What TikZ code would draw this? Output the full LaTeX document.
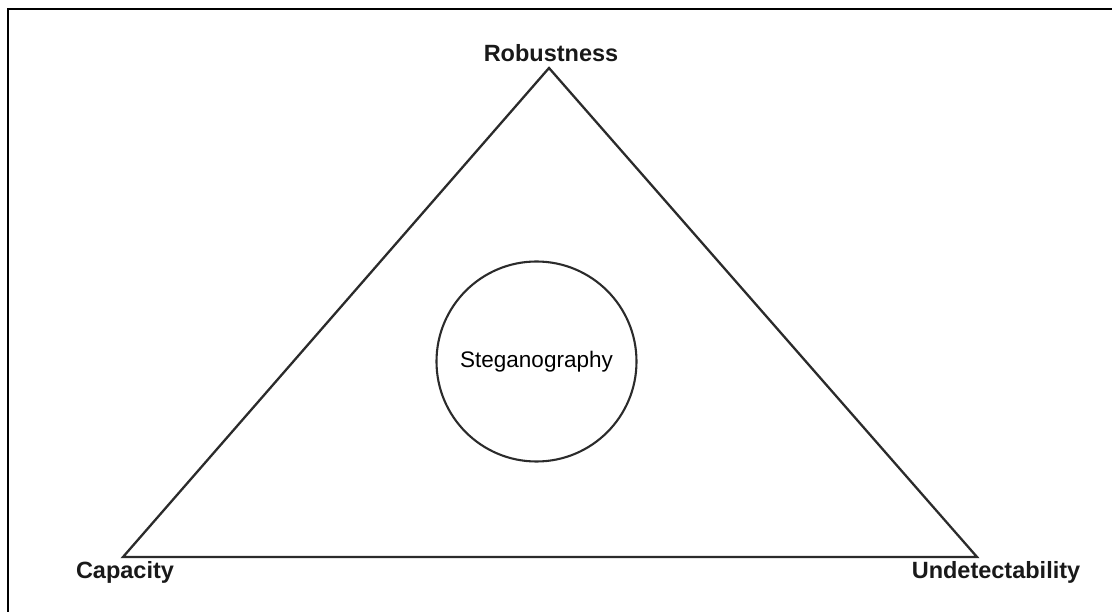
\documentclass[tikz,border=0pt]{standalone}
\usepackage{fontspec}
\setmainfont{Liberation Sans}
\usetikzlibrary{positioning}
\definecolor{edgegray}{HTML}{2B2B2B}
\tikzset{
  frame/.style={draw=black,line width=2pt},
  side/.style={draw=edgegray,line width=2.3pt,line join=miter},
  vertexlabel/.style={anchor=base,inner sep=0pt,font=\fontsize{23.5}{25}\selectfont\bfseries,text=black!90},
  stegcircle/.style={circle,draw=edgegray,line width=2.1pt,minimum size=200pt,inner sep=0pt}
}
\begin{document}
\begin{tikzpicture}[x=1pt,y=1pt]
  \useasboundingbox (0,0) rectangle (1112,611);
  \draw[frame] (8,-20) rectangle (1140,602);
  \coordinate (apex) at (549,543);
  \coordinate (left) at (123,54);
  \coordinate (right) at (977,54);
  \draw[side] (apex) -- (left) -- (right) -- cycle;
  \node[vertexlabel] (robust) at (551,549) {Robustness};
  \node[vertexlabel] (capacity) at (125,33) {Capacity};
  \node[vertexlabel] (undetect) at (996,32) {Undetectability};
  \node[stegcircle] (steg) at (536.5,249.5) {};
  \node[anchor=base,inner sep=0pt,font=\fontsize{22.5}{24}\selectfont,text=black] (stegtext) at (steg.center |- 0,243) {Steganography};
\end{tikzpicture}
\end{document}
